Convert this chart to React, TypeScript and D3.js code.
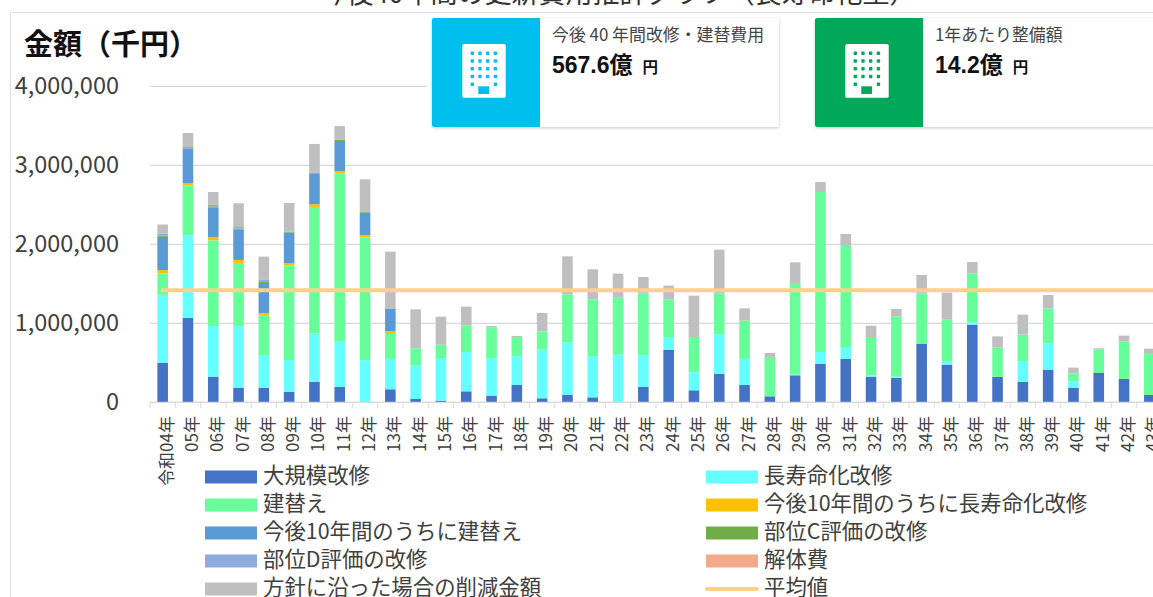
import React from 'react'
import * as d3 from 'd3'

const W = 1153
const H = 597
const FONT = "'Noto Sans CJK JP', sans-serif"
const NUM_FONT = "'Liberation Sans', 'Noto Sans CJK JP', sans-serif"

const years = d3.range(4, 44).map((y) => (y < 10 ? '0' + y : '' + y) + '年')
years[0] = '令和04年'

// values in thousand yen
const large = [500, 1068, 325, 186, 186, 135, 257, 194, 0, 165, 42, 21, 139, 80, 219, 51, 97, 63, 0, 194, 662, 152, 363, 219, 76, 342, 489, 549, 325, 308, 738, 477, 983, 321, 257, 414, 186, 371, 295, 93]
const longLife = [860, 1046, 641, 776, 409, 401, 612, 578, 532, 384, 426, 540, 498, 477, 363, 616, 662, 519, 603, 401, 165, 228, 498, 330, 4, 8, 148, 151, 17, 17, 0, 42, 30, 0, 262, 333, 80, 0, 0, 0]
const rebuild = [273, 629, 1084, 802, 502, 1194, 1604, 2123, 1552, 316, 216, 169, 333, 392, 245, 232, 608, 722, 726, 785, 477, 447, 519, 485, 494, 1160, 2025, 1279, 485, 759, 642, 527, 616, 371, 338, 439, 101, 296, 473, 531]
const longLife10 = [40, 33, 39, 38, 34, 29, 33, 33, 30, 34, 0, 0, 0, 0, 0, 0, 0, 0, 0, 0, 0, 0, 0, 0, 0, 0, 0, 0, 0, 0, 0, 0, 0, 0, 0, 0, 0, 0, 0, 0]
const rebuild10 = [422, 418, 379, 384, 380, 389, 389, 380, 287, 282, 0, 0, 0, 0, 0, 0, 0, 0, 0, 0, 0, 0, 0, 0, 0, 0, 0, 0, 0, 0, 0, 0, 0, 0, 0, 0, 0, 0, 0, 0]
const partC = [12, 13, 13, 12, 12, 12, 8, 17, 8, 0, 0, 0, 0, 0, 0, 0, 0, 0, 0, 0, 0, 0, 0, 0, 0, 0, 0, 0, 0, 0, 0, 0, 0, 0, 0, 0, 0, 0, 0, 0]
const partD = [25, 25, 17, 21, 26, 0, 0, 0, 0, 0, 0, 0, 0, 0, 0, 0, 0, 0, 0, 0, 0, 0, 0, 0, 0, 0, 0, 0, 0, 0, 0, 0, 0, 0, 0, 0, 0, 0, 0, 0]
const demolition = years.map(() => 0)
const reduction = [118, 177, 164, 300, 295, 363, 367, 173, 414, 726, 493, 354, 241, 17, 13, 232, 481, 380, 300, 206, 173, 523, 552, 156, 50, 262, 127, 152, 143, 97, 232, 342, 147, 143, 253, 173, 72, 17, 76, 55]
const average = 1419000

const seriesNames = ['大規模改修', '長寿命化改修', '建替え', '今後10年間のうちに長寿命化改修', '今後10年間のうちに建替え', '部位C評価の改修', '部位D評価の改修', '解体費', '方針に沿った場合の削減金額']
const seriesValues = [large, longLife, rebuild, longLife10, rebuild10, partC, partD, demolition, reduction]
const seriesColors = ['#4472C4', '#66FFFF', '#66FF99', '#FFC000', '#5B9BD5', '#70AD47', '#8FAADC', '#F4A98A', '#BFBFBF']
const avgName = '平均値'
const avgColor = '#FFD08A'

const yTicks = [0, 1000000, 2000000, 3000000, 4000000]
const yTitle = '金額（千円）'

const cards = [
  { x: 432, color: '#00BFEF', label: '今後 40 年間改修・建替費用', value: '567.6億' },
  { x: 815, color: '#00A85A', label: '1年あたり整備額', value: '14.2億' },
]

const x = d3.scaleBand<string>().domain(years).range([150, 1162])
const y = d3.scaleLinear().domain([0, 4000000]).range([402.3, 86.3])

const table = years.map((year, i) => {
  const row: any = { year }
  seriesNames.forEach((n, s) => { row[n] = seriesValues[s][i] * 1000 })
  return row
})
const stacked = d3.stack<any>().keys(seriesNames)(table)

const fmt = d3.format(',')
const BAR_W = 10.6

function Building({ x0, color }: { x0: number; color: string }) {
  const cols = [0, 1, 2, 3]
  const rows = [0, 1, 2, 3, 4]
  return (
    <g transform={`translate(${x0},44)`}>
      <rect x={30.3} width={43.4} height={53.7} rx={1.5} fill="#fff" />
      {rows.map((r) =>
        cols.map((c) =>
          r === 4 && (c === 1 || c === 2) ? null : (
            <rect key={r + '-' + c} x={38.6 + c * 7.7} y={7.6 + r * 7.75} width={3.4} height={3.4} rx={0.8} fill={color} />
          )
        )
      )}
      <rect x={46.3} y={42.3} width={10.7} height={7.7} fill={color} />
    </g>
  )
}

export default function App() {
  const legendRows = [0, 1, 2, 3, 4]
  return (
    <svg
      width={W}
      height={H}
      style={{ position: 'absolute', left: 0, top: 0, display: 'block' }}
      fontFamily={FONT}
    >
      <defs>
        <filter id="cardShadow" x="-5%" y="-10%" width="110%" height="125%">
          <feDropShadow dx={0} dy={1} stdDeviation={1.8} floodColor="#000" floodOpacity={0.22} />
        </filter>
      </defs>
      <rect width={W} height={H} fill="#fff" />

      {/* page heading, only its lower edge is in frame */}
      <text x={618} y={3} fontSize={27} fill="#333" textAnchor="middle">今後40年間の更新費用推計グラフ（長寿命化型）</text>

      <path d={`M10.5,${H}V12.5H${W}`} fill="none" stroke="#e0e0e0" strokeWidth={1.2} />

      {yTicks.map((t) => (
        <line key={t} x1={150} x2={W} y1={y(t)} y2={y(t)} stroke="#d9d9d9" strokeWidth={1.2} />
      ))}
      {yTicks.map((t) => (
        <text key={t} x={119} y={y(t) + 8} fontSize={23.5} fill="#404040" textAnchor="end">{fmt(t)}</text>
      ))}

      {/* one x per character, otherwise the browser squeezes the brackets */}
      <text x={Array.from(yTitle).map((_, i) => 24 + i * 29).join(' ')} y={55} fontSize={29} fontWeight={700} fill="#111">{yTitle}</text>

      {stacked.map((layer, s) => (
        <g key={layer.key} fill={seriesColors[s]}>
          {layer.map((d: any, i: number) =>
            d[1] - d[0] > 0 ? (
              <rect
                key={i}
                x={x(years[i])! + x.bandwidth() / 2 - BAR_W / 2}
                y={y(d[1])}
                width={BAR_W}
                height={y(d[0]) - y(d[1])}
              />
            ) : null
          )}
        </g>
      ))}

      {/* x axis */}
      <line x1={150} x2={W} y1={y(0)} y2={y(0)} stroke="#d9d9d9" strokeWidth={1.2} />
      {years.map((yr) => (
        <line key={yr} x1={x(yr)!} x2={x(yr)!} y1={y(0)} y2={y(0) + 6} stroke="#d9d9d9" />
      ))}
      {years.map((yr) => (
        <text
          key={yr}
          transform={`translate(${x(yr)! + x.bandwidth() / 2 + 10},416) rotate(-90)`}
          fontSize={17}
          fill="#404040"
          textAnchor="end"
        >
          {yr}
        </text>
      ))}

      <line
        x1={x(years[0])! + x.bandwidth() / 2}
        x2={W}
        y1={y(average)}
        y2={y(average)}
        stroke={avgColor}
        strokeWidth={4}
        strokeLinecap="round"
      />

      {/* cards */}
      <rect x={427} y={13} width={W - 427} height={114} fill="#fff" />
      {cards.map((c) => (
        <g key={c.x}>
          <rect x={c.x} y={18} width={347} height={109} rx={2} fill="#fff" filter="url(#cardShadow)" />
          <path d={`M${c.x + 108},18H${c.x + 2}a2,2 0 0 0 -2,2V125a2,2 0 0 0 2,2H${c.x + 108}Z`} fill={c.color} />
          <Building x0={c.x} color={c.color} />
          <text x={c.x + 120} y={41} fontSize={16.9} fill="#444">{c.label}</text>
          <text x={c.x + 120} y={73} fontSize={23} fontWeight={700} fill="#111" fontFamily={NUM_FONT}>
            {c.value}
            <tspan dx={10} fontSize={15.5}>円</tspan>
          </text>
        </g>
      ))}

      {/* legend */}
      {legendRows.map((r) => {
        const cy = 477 + r * 28
        const left = r * 2
        const right = r * 2 + 1
        return (
          <g key={r}>
            <rect x={205} y={cy - 6.5} width={52} height={13} fill={seriesColors[left]} />
            <text x={263} y={cy + 6} fontSize={21.4} fill="#404040">{seriesNames[left]}</text>
            {r < 4 ? (
              <rect x={706} y={cy - 6.5} width={52} height={13} fill={seriesColors[right]} />
            ) : (
              <line x1={707} x2={757} y1={cy} y2={cy} stroke={avgColor} strokeWidth={4} strokeLinecap="round" />
            )}
            <text x={764} y={cy + 6} fontSize={21.4} fill="#404040">{r < 4 ? seriesNames[right] : avgName}</text>
          </g>
        )
      })}
    </svg>
  )
}
